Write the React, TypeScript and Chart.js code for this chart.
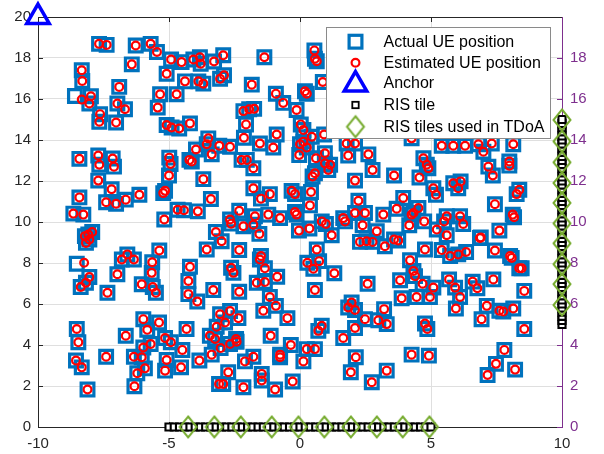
import React, { useEffect, useRef } from "react";
import { Chart, registerables } from "chart.js";

Chart.register(...registerables);

// Axis ranges and tick values
const xTicks = [-10, -5, 0, 5, 10];
const yTicksLeft = [0, 2, 4, 6, 8, 10, 12, 14, 16, 18, 20];
const yTicksRight = [0, 2, 4, 6, 8, 10, 12, 14, 16, 18];

// True UE locations [x, y] in metres
const actualUE: [number, number][] = [
  [-7.67, 18.69], [-7.38, 18.64], [-6.27, 18.61], [-5.7, 18.69], [-5.46, 18.29], [-6.42, 17.69], [-4.92, 17.93], [-4.52, 17.8],
  [-4.07, 17.93], [-3.82, 18.04], [-3.79, 17.72], [-3.28, 17.83], [-2.93, 18.13], [-4.39, 16.86], [-3.88, 16.86], [-3.69, 16.75],
  [-3.05, 16.99], [-2.9, 17.16], [-8.33, 17.4], [-8.31, 16.88], [-8.59, 16.15], [-7.98, 16.13], [-8.04, 15.78], [-6.9, 16.59],
  [-6.97, 15.78], [-6.68, 15.5], [-7.63, 15.26], [-7.66, 14.89], [-7.02, 14.85], [-5.34, 16.23], [-4.71, 16.23], [-5.43, 15.58],
  [-5.09, 14.73], [-4.9, 14.61], [-4.61, 14.56], [-4.2, 14.81], [-5.09, 17.23], [-3.5, 14.08], [-3.56, 13.79], [-3.97, 13.54],
  [-4.22, 13.03], [-4.13, 12.95], [-3.37, 13.3], [-3.08, 13.72], [-2.67, 13.67], [-8.42, 13.08], [-7.7, 13.24], [-7.66, 12.79],
  [-7.15, 13.1], [-7.1, 12.7], [-4.99, 13.14], [-4.94, 12.83], [-5.0, 12.27], [-7.7, 12.02], [-3.69, 12.09], [-7.19, 11.6],
  [-8.42, 11.2], [-7.4, 10.96], [-7.02, 10.89], [-6.65, 11.09], [-6.13, 11.33], [-5.22, 11.41], [-5.15, 11.52], [-4.67, 10.6],
  [-4.43, 10.57], [-3.9, 10.52], [-3.4, 11.12], [-8.65, 10.41], [-8.27, 10.36], [-5.18, 10.12],
  [-8.21, 9.31], [-8.08, 9.39], [-7.93, 9.51], [-8.17, 8.98], [-8.04, 9.15], [-8.52, 7.96], [-8.04, 7.32], [-8.17, 7.04],
  [-8.37, 6.83], [-7.35, 6.55], [-6.97, 7.45], [-6.8, 8.17], [-6.59, 8.42], [-6.34, 8.17], [-6.04, 6.96], [-5.64, 8.04],
  [-5.66, 7.52], [-5.62, 6.83], [-5.5, 6.55], [-5.37, 8.61], [-4.2, 7.82], [-4.26, 7.12], [-4.26, 6.48], [-3.92, 6.12],
  [-3.56, 8.66], [-3.21, 9.51], [-3.31, 6.68], [-8.52, 4.78], [-8.46, 4.13], [-8.55, 3.24], [-8.33, 2.91], [-8.11, 1.83],
  [-7.4, 3.43], [-6.65, 4.45], [-5.98, 5.26], [-5.83, 4.74], [-5.38, 5.1], [-6.34, 3.43], [-6.04, 3.4], [-5.98, 3.88],
  [-5.7, 4.05], [-5.92, 2.86], [-6.21, 2.62], [-6.32, 1.99], [-5.15, 4.34], [-4.93, 4.13], [-5.09, 3.27], [-5.15, 2.75],
  [-4.49, 3.76], [-4.33, 4.78], [-4.54, 2.91], [-3.84, 3.24], [-3.37, 3.53], [-3.44, 4.45], [-3.24, 4.29], [-3.18, 4.89],
  [-3.05, 5.5], [-3.09, 2.1], [-2.67, 5.66], [-2.35, 5.31], [-2.86, 5.1], [-3.03, 3.85], [-2.67, 4.05], [-2.42, 4.16],
  [-2.44, 4.29], [-2.63, 9.92], [-2.16, 9.79], [-1.78, 9.87], [-1.55, 9.42], [-2.99, 9.06], [-2.32, 8.63], [-1.49, 8.34],
  [-1.53, 8.17], [-1.34, 7.74], [-2.63, 7.77], [-2.54, 7.52], [-0.87, 7.33], [-1.65, 7.04], [-1.34, 7.07], [-2.32, 6.6],
  [-1.15, 6.34], [-0.92, 5.91], [-1.4, 5.67], [-0.48, 5.31], [-1.78, 3.43], [-2.1, 3.2], [-2.74, 2.67], [-2.93, 2.1],
  [-2.16, 1.94], [-1.46, 2.59], [-1.46, 2.27], [-0.95, 1.83], [-0.76, 3.53], [-0.76, 3.4], [-1.12, 4.45], [-0.35, 4.0],
  [0.13, 3.2], [-0.28, 2.22], [0.26, 3.8], [0.57, 3.8], [0.7, 4.69], [0.83, 4.94], [0.64, 8.66], [0.28, 8.01],
  [0.51, 7.72], [0.73, 8.09], [0.57, 6.68], [1.31, 7.5], [-0.04, 9.58], [0.36, 9.68], [1.21, 9.35], [0.83, 10.03],
  [0.99, 9.9], [1.65, 10.19], [1.72, 10.03], [2.39, 9.84], [2.93, 9.55], [2.29, 9.03], [2.54, 9.06], [2.77, 9.03],
  [3.24, 8.82], [2.58, 6.99], [1.97, 6.07], [1.84, 5.83], [2.1, 5.71], [3.21, 5.75], [3.31, 5.02], [2.99, 5.21],
  [2.48, 5.26], [2.1, 4.83], [1.65, 4.34], [2.13, 3.4], [1.94, 2.67], [2.74, 2.18], [3.31, 2.75],
  [3.18, 10.36], [3.59, 9.15], [3.75, 9.1], [4.17, 9.84], [4.26, 10.36], [4.74, 10.03], [5.22, 9.63], [5.6, 9.35],
  [5.5, 10.03], [5.6, 10.28], [6.11, 10.28], [6.23, 9.9], [6.87, 9.22], [6.9, 9.25], [7.61, 9.58], [8.12, 10.36],
  [8.17, 10.23], [4.2, 8.13], [4.77, 8.66], [5.41, 8.63], [5.73, 8.34], [6.04, 8.42], [6.34, 8.54], [7.44, 8.61],
  [8.02, 8.34], [8.08, 8.25], [8.37, 7.74], [8.46, 7.74], [4.33, 7.61], [4.39, 7.36], [4.68, 6.99], [3.82, 7.16],
  [5.09, 6.8], [3.88, 6.28], [4.45, 6.34], [4.96, 6.34], [5.69, 7.2], [5.92, 6.8], [6.11, 6.34], [5.95, 5.78],
  [6.59, 7.09], [6.77, 6.77], [7.38, 7.2], [8.56, 6.64], [7.13, 5.91], [6.93, 5.26], [7.61, 5.67], [7.76, 5.63],
  [8.14, 5.78], [8.56, 4.78], [4.77, 5.05], [4.86, 4.78], [4.26, 3.53], [4.92, 3.48], [7.8, 3.76], [7.48, 3.08],
  [7.16, 2.54], [8.21, 2.8],
  [-1.36, 18.04], [-1.84, 16.7], [-0.92, 16.26], [-0.64, 15.81], [-0.13, 15.46], [0.19, 16.38], [0.26, 16.26], [0.55, 18.37],
  [0.57, 17.96], [0.64, 17.84], [0.87, 16.83], [-2.16, 15.41], [-1.94, 15.5], [-1.75, 15.52], [-2.06, 14.76], [-2.14, 14.11],
  [-1.53, 13.83], [-1.02, 13.63], [-0.89, 14.27], [0.03, 14.76], [0.13, 14.49], [0.45, 14.16], [0.13, 13.92], [0.0, 13.79],
  [0.26, 13.63], [-0.03, 13.27], [0.92, 14.27], [1.78, 13.83], [2.1, 13.83], [1.84, 13.24], [2.61, 13.3], [2.77, 12.54],
  [0.95, 13.35], [0.61, 13.11], [0.95, 12.86], [1.15, 12.79], [1.08, 12.54], [0.57, 12.38], [0.48, 12.22], [2.1, 12.02],
  [2.23, 11.04], [2.1, 10.44], [2.48, 10.44], [0.42, 11.46], [0.38, 10.81], [-0.19, 10.49], [-0.13, 10.36], [-0.32, 11.52],
  [-0.19, 11.36], [-1.15, 11.36], [-1.49, 11.14], [-1.78, 11.65], [-1.21, 10.36], [-0.76, 10.19], [-1.72, 10.28], [-2.32, 10.55],
  [-2.67, 10.12], [-2.23, 13.03], [-2.03, 13.03], [-1.78, 12.62],
  [5.41, 13.72], [5.85, 13.72], [6.3, 13.72], [6.81, 13.79], [7.0, 13.43], [7.32, 13.83], [8.14, 13.79], [4.71, 13.11],
  [4.84, 12.79], [4.9, 12.62], [4.56, 12.17], [3.59, 12.27], [4.26, 14.08], [7.19, 12.7], [7.36, 12.27], [7.99, 12.95],
  [7.99, 12.75], [5.85, 11.89], [6.13, 11.98], [6.04, 11.65], [5.09, 11.65], [5.19, 11.33], [3.94, 11.17], [3.69, 10.65],
  [4.33, 10.44], [4.52, 10.68], [7.44, 10.87], [8.37, 11.57], [8.27, 11.36],
];

// Estimated UE locations [x, y] in metres
const estimatedUE: [number, number][] = [
  [-7.67, 18.69], [-7.38, 18.64], [-6.27, 18.61], [-5.7, 18.69], [-5.46, 18.29], [-6.42, 17.69], [-4.92, 17.93], [-4.52, 17.8],
  [-4.07, 17.93], [-3.82, 18.04], [-3.79, 17.72], [-3.28, 17.83], [-2.93, 18.13], [-4.39, 16.86], [-3.88, 16.86], [-3.69, 16.75],
  [-3.05, 16.99], [-2.9, 17.16], [-8.33, 17.4], [-8.31, 16.88], [-8.33, 15.97], [-7.98, 16.13], [-8.04, 15.78], [-6.9, 16.59],
  [-6.97, 15.78], [-6.68, 15.5], [-7.63, 15.26], [-7.66, 14.89], [-7.02, 14.85], [-5.34, 16.23], [-4.71, 16.23], [-5.43, 15.58],
  [-5.09, 14.73], [-4.9, 14.61], [-4.61, 14.56], [-4.2, 14.81], [-5.09, 17.23], [-3.5, 14.08], [-3.56, 13.79], [-3.97, 13.54],
  [-4.22, 13.03], [-4.13, 12.95], [-3.37, 13.3], [-3.08, 13.72], [-2.67, 13.67], [-8.42, 13.08], [-7.7, 13.24], [-7.66, 12.79],
  [-7.15, 13.1], [-7.1, 12.7], [-4.99, 13.14], [-4.94, 12.83], [-5.0, 12.27], [-7.7, 12.02], [-3.69, 12.09], [-7.19, 11.6],
  [-8.42, 11.2], [-7.4, 10.96], [-7.02, 10.89], [-6.65, 11.09], [-6.13, 11.33], [-5.22, 11.41], [-5.15, 11.52], [-4.67, 10.6],
  [-4.43, 10.57], [-3.9, 10.52], [-3.4, 11.12], [-8.65, 10.41], [-8.27, 10.36], [-5.18, 10.12],
  [-8.21, 9.31], [-8.08, 9.39], [-7.93, 9.51], [-8.17, 8.98], [-8.04, 9.15], [-8.24, 8.01], [-8.04, 7.32], [-8.17, 7.04],
  [-8.37, 6.83], [-7.35, 6.55], [-6.97, 7.45], [-6.8, 8.17], [-6.59, 8.42], [-6.34, 8.17], [-6.04, 6.96], [-5.64, 8.04],
  [-5.66, 7.52], [-5.62, 6.83], [-5.5, 6.55], [-5.37, 8.61], [-4.2, 7.82], [-4.26, 7.12], [-4.26, 6.48], [-3.92, 6.12],
  [-3.56, 8.66], [-3.21, 9.51], [-3.31, 6.68], [-8.52, 4.78], [-8.46, 4.13], [-8.55, 3.24], [-8.33, 2.91], [-8.11, 1.83],
  [-7.4, 3.43], [-6.65, 4.45], [-5.98, 5.26], [-5.83, 4.74], [-5.38, 5.1], [-6.34, 3.43], [-6.04, 3.4], [-5.98, 3.88],
  [-5.7, 4.05], [-5.92, 2.86], [-6.21, 2.62], [-6.32, 1.99], [-5.15, 4.34], [-4.93, 4.13], [-5.09, 3.27], [-5.15, 2.75],
  [-4.49, 3.76], [-4.33, 4.78], [-4.54, 2.91], [-3.84, 3.24], [-3.37, 3.53], [-3.44, 4.45], [-3.24, 4.29], [-3.18, 4.89],
  [-3.05, 5.5], [-3.09, 2.1], [-2.67, 5.66], [-2.35, 5.31], [-2.86, 5.1], [-3.03, 3.85], [-2.67, 4.05], [-2.42, 4.16],
  [-2.44, 4.29], [-2.63, 9.92], [-2.16, 9.79], [-1.78, 9.87], [-1.55, 9.42], [-2.99, 9.06], [-2.32, 8.63], [-1.49, 8.34],
  [-1.53, 8.17], [-1.34, 7.74], [-2.63, 7.77], [-2.54, 7.52], [-0.87, 7.33], [-1.65, 7.04], [-1.34, 7.07], [-2.32, 6.6],
  [-1.15, 6.34], [-0.92, 5.91], [-1.4, 5.67], [-0.48, 5.31], [-1.78, 3.43], [-2.1, 3.2], [-2.74, 2.67], [-2.93, 2.1],
  [-2.16, 1.94], [-1.46, 2.59], [-1.46, 2.27], [-0.95, 1.83], [-0.76, 3.53], [-0.76, 3.4], [-1.12, 4.45], [-0.35, 4.0],
  [0.13, 3.2], [-0.28, 2.22], [0.26, 3.8], [0.57, 3.8], [0.7, 4.69], [0.83, 4.94], [0.64, 8.66], [0.28, 8.01],
  [0.51, 7.72], [0.73, 8.09], [0.57, 6.68], [1.31, 7.5], [-0.04, 9.58], [0.36, 9.68], [1.21, 9.35], [0.83, 10.03],
  [0.99, 9.9], [1.65, 10.19], [1.72, 10.03], [2.39, 9.84], [2.93, 9.55], [2.29, 9.03], [2.54, 9.06], [2.77, 9.03],
  [3.24, 8.82], [2.58, 6.99], [1.97, 6.07], [1.84, 5.83], [2.1, 5.71], [3.21, 5.75], [3.31, 5.02], [2.99, 5.21],
  [2.48, 5.26], [2.1, 4.83], [1.65, 4.34], [2.13, 3.4], [1.94, 2.67], [2.74, 2.18], [3.31, 2.75],
  [3.18, 10.36], [3.59, 9.15], [3.75, 9.1], [4.17, 9.84], [4.26, 10.36], [4.74, 10.03], [5.22, 9.63], [5.6, 9.35],
  [5.5, 10.03], [5.6, 10.28], [6.11, 10.28], [6.23, 9.9], [6.87, 9.22], [6.9, 9.25], [7.61, 9.58], [8.12, 10.36],
  [8.17, 10.23], [4.2, 8.13], [4.77, 8.66], [5.41, 8.63], [5.73, 8.34], [6.04, 8.42], [6.34, 8.54], [7.44, 8.61],
  [8.02, 8.34], [8.08, 8.25], [8.37, 7.74], [8.46, 7.74], [4.33, 7.61], [4.39, 7.36], [4.68, 6.99], [3.82, 7.16],
  [5.09, 6.8], [3.88, 6.28], [4.45, 6.34], [4.96, 6.34], [5.69, 7.2], [5.92, 6.8], [6.11, 6.34], [5.95, 5.78],
  [6.59, 7.09], [6.77, 6.77], [7.38, 7.2], [8.56, 6.64], [7.13, 5.91], [6.93, 5.26], [7.61, 5.67], [7.76, 5.63],
  [8.14, 5.78], [8.56, 4.78], [4.77, 5.05], [4.86, 4.78], [4.26, 3.53], [4.92, 3.48], [7.8, 3.76], [7.48, 3.08],
  [7.16, 2.54], [8.21, 2.8],
  [-1.36, 18.04], [-1.84, 16.7], [-0.92, 16.26], [-0.64, 15.81], [-0.13, 15.46], [0.19, 16.38], [0.26, 16.26], [0.55, 18.37],
  [0.57, 17.96], [0.64, 17.84], [0.87, 16.83], [-2.16, 15.41], [-1.94, 15.5], [-1.75, 15.52], [-2.06, 14.76], [-2.14, 14.11],
  [-1.53, 13.83], [-1.02, 13.63], [-0.89, 14.27], [0.03, 14.76], [0.13, 14.49], [0.45, 14.16], [0.13, 13.92], [0.0, 13.79],
  [0.26, 13.63], [-0.03, 13.27], [0.92, 14.27], [1.78, 13.83], [2.1, 13.83], [1.84, 13.24], [2.61, 13.3], [2.77, 12.54],
  [0.95, 13.35], [0.61, 13.11], [0.95, 12.86], [1.15, 12.79], [1.08, 12.54], [0.57, 12.38], [0.48, 12.22], [2.1, 12.02],
  [2.23, 11.04], [2.1, 10.44], [2.48, 10.44], [0.42, 11.46], [0.38, 10.81], [-0.19, 10.49], [-0.13, 10.36], [-0.32, 11.52],
  [-0.19, 11.36], [-1.15, 11.36], [-1.49, 11.14], [-1.78, 11.65], [-1.21, 10.36], [-0.76, 10.19], [-1.72, 10.28], [-2.32, 10.55],
  [-2.67, 10.12], [-2.23, 13.03], [-2.03, 13.03], [-1.78, 12.62],
  [5.41, 13.72], [5.85, 13.72], [6.3, 13.72], [6.81, 13.79], [7.0, 13.43], [7.32, 13.83], [8.14, 13.79], [4.71, 13.11],
  [4.84, 12.79], [4.9, 12.62], [4.56, 12.17], [3.59, 12.27], [4.26, 14.08], [7.19, 12.7], [7.36, 12.27], [7.99, 12.95],
  [7.99, 12.75], [5.85, 11.89], [6.13, 11.98], [6.04, 11.65], [5.09, 11.65], [5.19, 11.33], [3.94, 11.17], [3.69, 10.65],
  [4.33, 10.44], [4.52, 10.68], [7.44, 10.87], [8.37, 11.57], [8.27, 11.36],
];

// Anchor location
const anchorPos: [number, number][] = [[-10, 20]];

// RIS tile positions: bottom wall (y = 0) and right wall (x = 10)
const risBottomX = [
  -5, -4.8, -4.6, -4.4, -4.2, -4, -3.8, -3.6, -3.4, -3.2, -3, -2.8, -2.6, -2.4, -2.2, -2, -1.8,
  -1.6, -1.4, -1.2, -1, -0.8, -0.6, -0.4, -0.2, 0, 0.2, 0.4, 0.6, 0.8, 1, 1.2, 1.4, 1.6, 1.8,
  2, 2.2, 2.4, 2.6, 2.8, 3, 3.2, 3.4, 3.6, 3.8, 4, 4.2, 4.4, 4.6, 4.8, 5,
];
const risRightY = [
  5, 5.2, 5.4, 5.6, 5.8, 6, 6.2, 6.4, 6.6, 6.8, 7, 7.2, 7.4, 7.6, 7.8, 8, 8.2, 8.4, 8.6, 8.8,
  9, 9.2, 9.4, 9.6, 9.8, 10, 10.2, 10.4, 10.6, 10.8, 11, 11.2, 11.4, 11.6, 11.8, 12, 12.2, 12.4,
  12.6, 12.8, 13, 13.2, 13.4, 13.6, 13.8, 14, 14.2, 14.4, 14.6, 14.8, 15,
];

// RIS tiles selected for TDoA
const tdoaBottomX = [-4.27, -3.27, -2.26, -1.08, -0.06, 0.93, 1.94, 2.93, 3.92, 4.94];
const tdoaRightY = [14.98, 13.93, 12.91, 11.9, 10.93, 9.93, 8.96, 7.94, 6.97, 5.95];

const legendLabels = [
  "Actual UE position",
  "Estimated UE position",
  "Anchor",
  "RIS tile",
  "RIS tiles used in TDoA",
];

const BLUE = "#0072BD";
const RED = "#FF0000";
const ANCHOR_BLUE = "#0000FF";
const GREEN = "#77AC30";
const PURPLE = "#7E2F8E";
const AXIS = "#262626";
const GRID = "#dfdfdf";
const FONT = '"Liberation Sans", Arial, Helvetica, sans-serif';

function makeDiamond(): HTMLCanvasElement {
  const c = document.createElement("canvas");
  c.width = 22;
  c.height = 26;
  const g = c.getContext("2d")!;
  g.strokeStyle = GREEN;
  g.lineWidth = 2;
  g.beginPath();
  g.moveTo(11, 2.5);
  g.lineTo(19.5, 13);
  g.lineTo(11, 23.5);
  g.lineTo(2.5, 13);
  g.closePath();
  g.stroke();
  return c;
}

function drawTriangle(ctx: CanvasRenderingContext2D, x: number, y: number, r: number) {
  ctx.beginPath();
  ctx.moveTo(x, y - r);
  ctx.lineTo(x + Math.sin((2 * Math.PI) / 3) * r, y + r / 2);
  ctx.lineTo(x - Math.sin((2 * Math.PI) / 3) * r, y + r / 2);
  ctx.closePath();
}

export default function App() {
  const canvasRef = useRef<HTMLCanvasElement | null>(null);

  useEffect(() => {
    const canvas = canvasRef.current;
    if (!canvas) return;
    const diamond = makeDiamond();

    const framePlugin = {
      id: "frame",
      beforeDatasetsDraw(chart: any) {
        const { ctx, chartArea } = chart;
        const { left, right, top, bottom } = chartArea;
        const xs = chart.scales.x;
        const yl = chart.scales.y;
        const tick = 5;
        ctx.save();
        ctx.lineWidth = 1;
        ctx.strokeStyle = AXIS;
        ctx.beginPath();
        ctx.moveTo(left + 0.5, bottom + 0.5);
        ctx.lineTo(left + 0.5, top + 0.5);
        ctx.lineTo(right + 0.5, top + 0.5);
        ctx.moveTo(left + 0.5, bottom + 0.5);
        ctx.lineTo(right + 0.5, bottom + 0.5);
        for (const v of xTicks) {
          const px = Math.round(xs.getPixelForValue(v)) + 0.5;
          ctx.moveTo(px, bottom);
          ctx.lineTo(px, bottom - tick);
          ctx.moveTo(px, top);
          ctx.lineTo(px, top + tick);
        }
        for (const v of yTicksLeft) {
          const py = Math.round(yl.getPixelForValue(v)) + 0.5;
          ctx.moveTo(left, py);
          ctx.lineTo(left + tick, py);
        }
        ctx.stroke();
        ctx.strokeStyle = PURPLE;
        ctx.beginPath();
        ctx.moveTo(right + 0.5, top);
        ctx.lineTo(right + 0.5, bottom + 1);
        for (const v of yTicksRight) {
          const py = Math.round(chart.scales.y2.getPixelForValue(v)) + 0.5;
          ctx.moveTo(right, py);
          ctx.lineTo(right - tick, py);
        }
        ctx.stroke();
        ctx.restore();
      },
    };

    const legendPlugin = {
      id: "boxLegend",
      afterDatasetsDraw(chart: any) {
        const ctx: CanvasRenderingContext2D = chart.ctx;
        const bx = 326.5, by = 27.5, bw = 224, bh = 111;
        ctx.save();
        ctx.fillStyle = "#ffffff";
        ctx.fillRect(bx, by, bw, bh);
        ctx.strokeStyle = "#8a8a8a";
        ctx.lineWidth = 1;
        ctx.strokeRect(bx, by, bw, bh);
        const mx = 355.5;
        const rows = [41.7, 62.7, 83.5, 105, 126.7];
        // actual UE
        ctx.strokeStyle = BLUE;
        ctx.lineWidth = 3.2;
        ctx.strokeRect(mx - 6.4, rows[0] - 6.4, 12.8, 12.8);
        // estimated UE
        ctx.strokeStyle = RED;
        ctx.lineWidth = 2.2;
        ctx.beginPath();
        ctx.arc(mx, rows[1], 3.9, 0, Math.PI * 2);
        ctx.stroke();
        // anchor
        ctx.strokeStyle = ANCHOR_BLUE;
        ctx.lineWidth = 3.5;
        drawTriangle(ctx, mx, rows[2] + 1, 13);
        ctx.stroke();
        // RIS tile
        ctx.strokeStyle = "#000";
        ctx.fillStyle = "#fff";
        ctx.lineWidth = 1.8;
        ctx.fillRect(mx - 3.2, rows[3] - 3.2, 6.4, 6.4);
        ctx.strokeRect(mx - 3.2, rows[3] - 3.2, 6.4, 6.4);
        // TDoA tile
        ctx.drawImage(diamond, mx - 11, rows[4] - 13);
        ctx.fillStyle = "#000";
        ctx.font = `16px ${FONT}`;
        ctx.textBaseline = "middle";
        ctx.textAlign = "left";
        legendLabels.forEach((t, i) => ctx.fillText(t, 383.5, rows[i] + 0.5));
        ctx.restore();
      },
    };

    const tickSetter = (vals: number[]) => (scale: any) => {
      scale.ticks = vals.map((v) => ({ value: v }));
    };

    const chart = new Chart(canvas, {
      type: "scatter",
      data: {
        datasets: [
          {
            label: legendLabels[4],
            data: [
              ...tdoaBottomX.map((x) => ({ x, y: 0 })),
              ...tdoaRightY.map((y) => ({ x: 10, y })),
            ],
            pointStyle: diamond as any,
            pointRadius: 11,
            clip: false as any,
          },
          {
            label: legendLabels[3],
            data: [
              ...risBottomX.map((x) => ({ x, y: 0 })),
              ...risRightY.map((y) => ({ x: 10, y })),
            ],
            pointStyle: "rect",
            pointRadius: 5,
            borderWidth: 2.1,
            borderColor: "#000",
            backgroundColor: "#fff",
            clip: false as any,
          },
          {
            label: legendLabels[2],
            data: anchorPos.map(([x, y]) => ({ x, y })),
            pointStyle: "triangle",
            pointRadius: 13,
            borderWidth: 3.5,
            borderColor: ANCHOR_BLUE,
            backgroundColor: "rgba(0,0,0,0)",
            clip: false as any,
          },
          {
            label: legendLabels[1],
            data: estimatedUE.map(([x, y]) => ({ x, y })),
            pointStyle: "circle",
            pointRadius: 3.9,
            borderWidth: 2.2,
            borderColor: RED,
            backgroundColor: "rgba(0,0,0,0)",
          },
          {
            label: legendLabels[0],
            data: actualUE.map(([x, y]) => ({ x, y })),
            pointStyle: "rect",
            pointRadius: 9,
            borderWidth: 3.2,
            borderColor: BLUE,
            backgroundColor: "rgba(0,0,0,0)",
          },
        ],
      },
      options: {
        animation: false,
        responsive: false,
        maintainAspectRatio: false,
        events: [],
        layout: { padding: { top: 15, left: 0, right: 0, bottom: 0 } },
        plugins: {
          legend: { display: false },
          tooltip: { enabled: false },
        },
        scales: {
          x: {
            type: "linear",
            min: -10,
            max: 10,
            afterBuildTicks: tickSetter(xTicks),
            afterFit: (s: any) => {
              s.height = 27;
            },
            ticks: {
              color: AXIS,
              font: { family: FONT, size: 15 },
              padding: 8,
              maxRotation: 0,
              autoSkip: false,
              callback: (v: any) => String(v),
            },
            grid: { color: GRID, drawTicks: false, lineWidth: 1 },
            border: { display: false },
          },
          y: {
            type: "linear",
            position: "left",
            min: 0,
            max: 20,
            afterBuildTicks: tickSetter(yTicksLeft),
            afterFit: (s: any) => {
              s.width = 38;
            },
            ticks: {
              color: AXIS,
              font: { family: FONT, size: 15 },
              padding: 7,
              autoSkip: false,
              callback: (v: any) => String(v),
            },
            grid: { color: GRID, drawTicks: false, lineWidth: 1 },
            border: { display: false },
          },
          y2: {
            type: "linear",
            position: "right",
            min: 0,
            max: 20,
            afterBuildTicks: tickSetter(yTicksRight),
            afterFit: (s: any) => {
              s.width = 42;
            },
            ticks: {
              color: PURPLE,
              font: { family: FONT, size: 15 },
              padding: 8,
              autoSkip: false,
              callback: (v: any) => String(v),
            },
            grid: { display: false, drawTicks: false },
            border: { display: false },
          },
        },
      },
      plugins: [framePlugin, legendPlugin],
    } as any);

    return () => chart.destroy();
  }, []);

  return (
    <div
      style={{
        position: "fixed",
        left: 0,
        top: 0,
        width: 604,
        height: 454,
        background: "#ffffff",
      }}
    >
      <canvas ref={canvasRef} width={604} height={454} style={{ display: "block" }} />
    </div>
  );
}
